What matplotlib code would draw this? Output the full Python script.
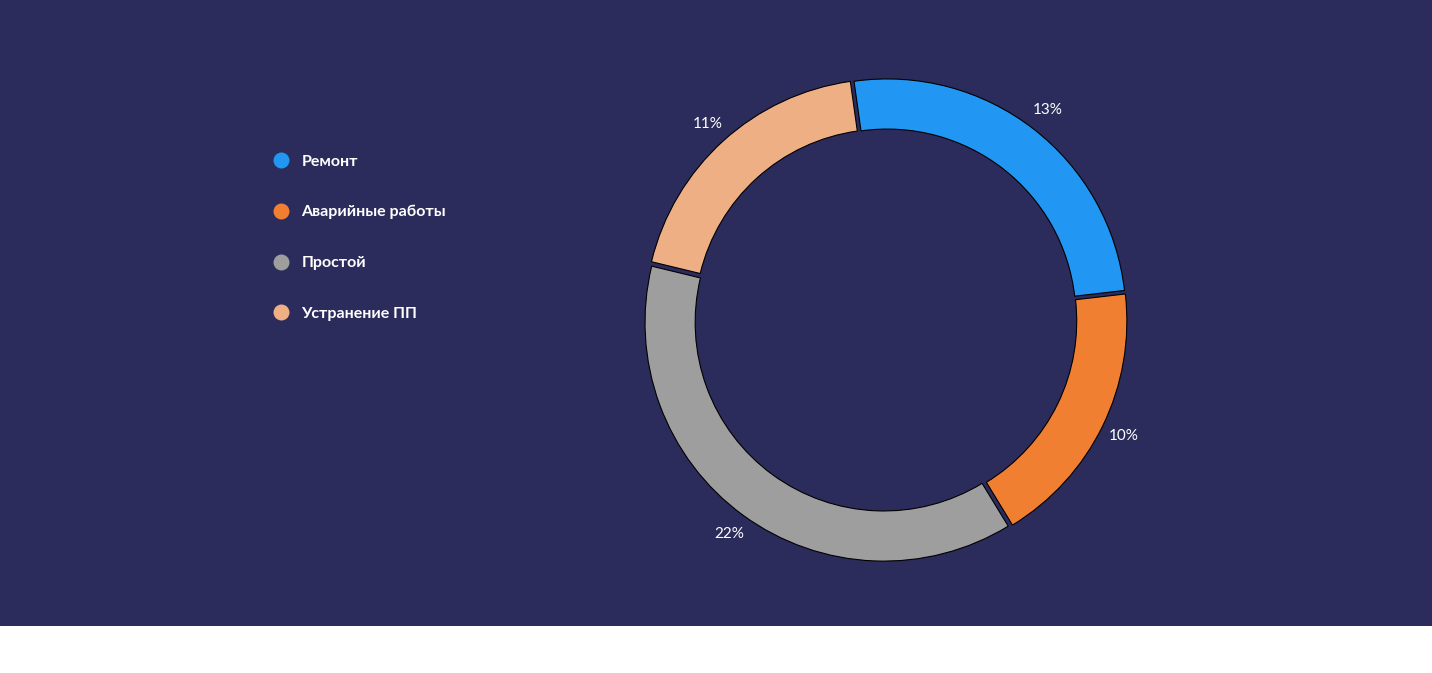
import matplotlib
matplotlib.use("Agg")
import matplotlib.pyplot as plt
from matplotlib.lines import Line2D
from matplotlib.patches import Rectangle
import numpy as np

categories = ["Ремонт", "Аварийные работы", "Простой", "Устранение ПП"]
shares = [25.4, 18.1, 37.5, 19.0]          # slice sizes
pct_labels = ["13%", "10%", "22%", "11%"]   # labels as printed
colors = ["#2196F3", "#F07F32", "#9E9E9E", "#EFAF85"]

BG = "#2C2C5C"
W, H = 1432, 673
fig = plt.figure(figsize=(W / 100, H / 100), dpi=100)
fig.patch.set_facecolor("white")
fig.add_artist(Rectangle((0, 47 / H), 1, 1 - 47 / H, transform=fig.transFigure,
                         facecolor=BG, edgecolor="none", zorder=-10))

cx, cy, side = 885.5, H - 320, 597
ax = fig.add_axes([(cx - side / 2) / W, (cy - side / 2) / H, side / W, side / H])
ax.set_facecolor("none")
ax.axis("off")
ax.set_zorder(5)

wedges, _ = ax.pie(
    shares, colors=colors, startangle=98, counterclock=False,
    radius=1.0, explode=[0.012] * len(shares),
    wedgeprops=dict(width=0.21, edgecolor="black", linewidth=0.8),
)
ax.set_xlim(-1.25, 1.25)
ax.set_ylim(-1.25, 1.25)
ax.set_aspect("equal")

for w, lab in zip(wedges, pct_labels):
    mid = np.deg2rad((w.theta1 + w.theta2) / 2)
    r = 1.11
    ax.text(r * np.cos(mid), r * np.sin(mid), lab, ha="center", va="center",
            color="white", fontsize=11, family=["Lato", "DejaVu Sans"],
            fontweight="normal", zorder=10)

handles = [Line2D([0], [0], marker="o", linestyle="none", markersize=11.5,
                  markerfacecolor=c, markeredgecolor="none") for c in colors]
leg = fig.legend(handles, categories, loc="upper left",
                 bbox_to_anchor=(259 / W, 1 - 140 / H), frameon=False,
                 labelspacing=2.29, handletextpad=0.75, handlelength=1.0,
                 prop=dict(family=["Lato", "DejaVu Sans"], weight="bold", size=11.5))
leg.set_zorder(6)
for t in leg.get_texts():
    t.set_color("white")

fig.savefig("out.png", dpi=100, facecolor=fig.get_facecolor())
